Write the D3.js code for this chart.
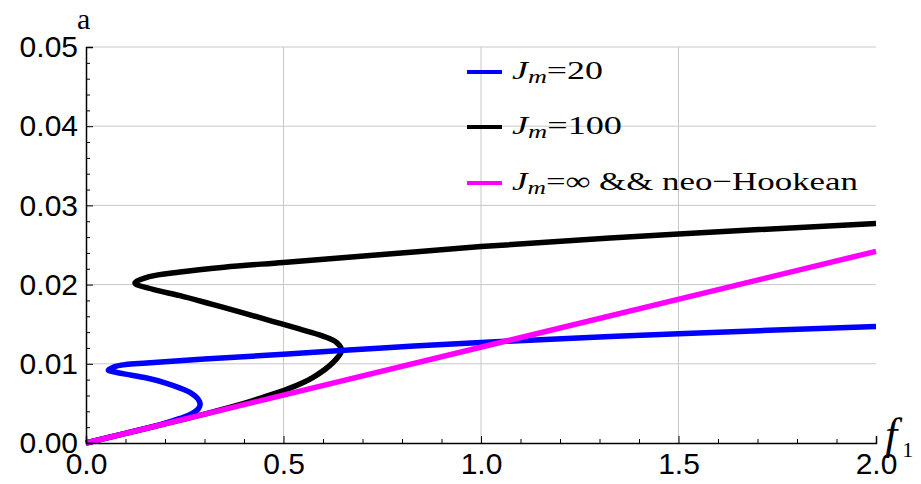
<!DOCTYPE html>
<html>
<head>
<meta charset="utf-8">
<script src="https://cdn.jsdelivr.net/npm/d3@7"></script>
<style>
  body { margin: 0; background: #fff; }
  svg { display: block; }
</style>
</head>
<body>
<div id="chart"></div>
<script>
// values: [f1, a]
var jm20 = [
  [0, 0], [0.1, 0.00122], [0.18, 0.0022], [0.238, 0.0031], [0.268, 0.0037],
  [0.284, 0.0043], [0.289, 0.0049], [0.283, 0.0056], [0.266, 0.0063],
  [0.24, 0.0069], [0.2, 0.0076], [0.154, 0.0082], [0.1, 0.0087],
  [0.07, 0.0090], [0.0565, 0.0092], [0.07, 0.0096], [0.1, 0.0099],
  [0.154, 0.0101], [0.3, 0.0106], [0.5, 0.0112], [0.75, 0.0120],
  [1.0, 0.0127], [1.5, 0.0138], [2.0, 0.0147]
];
var jm100 = [
  [0, 0], [0.1, 0.00122], [0.2, 0.00243], [0.3, 0.00365], [0.4, 0.0050],
  [0.45, 0.0058], [0.51, 0.0068], [0.575, 0.0083], [0.626, 0.0102],
  [0.647, 0.0117], [0.634, 0.0127], [0.6, 0.0135], [0.54, 0.0144],
  [0.47, 0.0154], [0.4, 0.0164], [0.32, 0.0175], [0.238, 0.0186],
  [0.17, 0.0194], [0.124, 0.0202], [0.16, 0.0210], [0.238, 0.0216],
  [0.35, 0.0222], [0.5, 0.0228], [0.75, 0.0238], [1.0, 0.0248],
  [1.5, 0.0264], [2.0, 0.0277]
];
var neoHookean = [[0, 0], [2.0, 0.0242]];

var xTicks = [0, 0.5, 1.0, 1.5, 2.0];
var yTicks = [0, 0.01, 0.02, 0.03, 0.04, 0.05];
var legendNames = ["=20", "=100", "=\u221e && neo\u2212Hookean"];
var legendColors = ["#0000ff", "#000000", "#ff00ff"];

var width = 921, height = 484;
var margin = {top: 47, right: 45, bottom: 41, left: 86};

var svg = d3.select("#chart").append("svg")
    .attr("width", width)
    .attr("height", height);

var x = d3.scaleLinear().domain([0, 2]).range([margin.left, width - margin.right]);
var y = d3.scaleLinear().domain([0, 0.05]).range([height - margin.bottom, margin.top]);

// grid
var grid = svg.append("g").attr("stroke", "#c8c8c8").attr("stroke-width", 1);
grid.selectAll(".gx").data(xTicks.slice(1, -1)).enter().append("line")
    .attr("x1", d => x(d)).attr("x2", d => x(d))
    .attr("y1", y(0)).attr("y2", y(0.05));
grid.selectAll(".gy").data(yTicks.slice(1)).enter().append("line")
    .attr("x1", x(0)).attr("x2", x(2))
    .attr("y1", d => y(d)).attr("y2", d => y(d));

// minor ticks
var xMinor = d3.range(1, 20).map(d => d / 10).filter(d => Math.round(d * 10) % 5 != 0);
var yMinor = d3.range(1, 25).map(d => d / 500).filter(d => Math.round(d * 500) % 5 != 0);

svg.append("g")
    .attr("transform", "translate(0," + y(0) + ")")
    .call(d3.axisBottom(x).tickValues(xMinor).tickSize(-4).tickFormat(""))
    .call(g => g.select(".domain").remove());
svg.append("g")
    .attr("transform", "translate(" + x(0) + ",0)")
    .call(d3.axisLeft(y).tickValues(yMinor).tickSize(-4).tickFormat(""))
    .call(g => g.select(".domain").remove());

// curves
var line = d3.line()
    .x(d => x(d[0]))
    .y(d => y(d[1]))
    .curve(d3.curveCatmullRom.alpha(0.5));

svg.append("path").datum(jm100).attr("d", line)
    .attr("fill", "none").attr("stroke", legendColors[1])
    .attr("stroke-width", 5.5).attr("stroke-linejoin", "round");
svg.append("path").datum(jm20).attr("d", line)
    .attr("fill", "none").attr("stroke", legendColors[0])
    .attr("stroke-width", 5.5).attr("stroke-linejoin", "round");
svg.append("path").datum(neoHookean).attr("d", line)
    .attr("fill", "none").attr("stroke", legendColors[2])
    .attr("stroke-width", 5.5);

// axes
var xAxis = svg.append("g")
    .attr("transform", "translate(0," + y(0) + ")")
    .call(d3.axisBottom(x).tickValues(xTicks).tickSize(-7).tickPadding(10)
        .tickFormat(d3.format(".1f")));
var yAxis = svg.append("g")
    .attr("transform", "translate(" + x(0) + ",0)")
    .call(d3.axisLeft(y).tickValues(yTicks).tickSize(-7).tickPadding(8)
        .tickFormat(d3.format(".2f")));

[xAxis, yAxis].forEach(function(g) {
    g.selectAll(".domain").attr("stroke", "#000").attr("stroke-width", 1.5);
    g.selectAll("line").attr("stroke", "#000");
    g.selectAll("text")
        .attr("font-family", "'Liberation Sans', Arial, sans-serif")
        .attr("font-size", 30)
        .attr("fill", "#000");
});

// axis labels
svg.append("text")
    .attr("x", 77).attr("y", 29)
    .attr("font-family", "'Liberation Serif', 'Times New Roman', serif")
    .attr("font-size", 30)
    .text("a");

var f1 = svg.append("text")
    .attr("x", 885).attr("y", 449)
    .attr("font-family", "'Liberation Serif', 'Times New Roman', serif");
f1.append("tspan").attr("font-style", "italic").attr("font-size", 44).text("f");
f1.append("tspan").attr("font-size", 22).attr("dx", 5).attr("dy", 8).text("1");

// legend
var legendY = [72, 127, 183];
var legendW = [91, 110, 346];
var legend = svg.append("g");
legendNames.forEach(function(name, i) {
    legend.append("line")
        .attr("x1", 467).attr("x2", 502)
        .attr("y1", legendY[i]).attr("y2", legendY[i])
        .attr("stroke", legendColors[i]).attr("stroke-width", 4);
    var t = legend.append("text")
        .attr("x", 512).attr("y", legendY[i] + 7)
        .attr("font-family", "'Liberation Serif', 'Times New Roman', serif")
        .attr("font-size", 26)
        .attr("textLength", legendW[i])
        .attr("lengthAdjust", "spacingAndGlyphs");
    t.append("tspan").attr("font-style", "italic").text("J");
    t.append("tspan").attr("font-style", "italic").attr("font-size", 19)
        .attr("dy", 4).text("m");
    t.append("tspan").attr("dy", -4).text(name);
});
</script>
</body>
</html>
